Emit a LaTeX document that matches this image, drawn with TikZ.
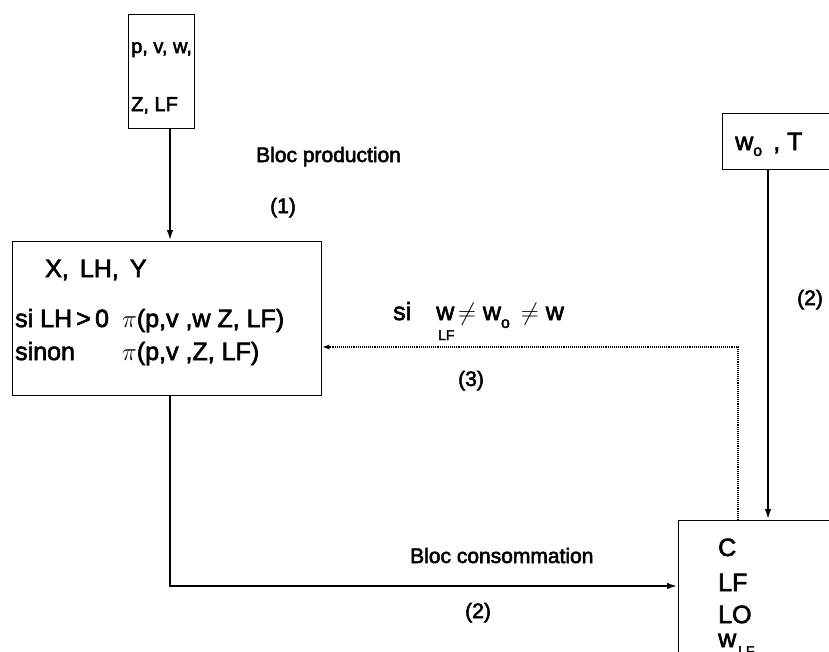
\documentclass[tikz,border=0pt]{standalone}
\usepackage{fontspec}
\setmainfont{Liberation Sans}
\newfontfamily\scanfont{Liberation Sans}[FakeBold=2.5]
\usetikzlibrary{arrows.meta}

\begin{document}
\begin{tikzpicture}[x=1pt, y=-1pt, >={Latex[length=11pt, width=6.5pt]}, every node/.style={font=\scanfont\fontsize{21}{25}\selectfont, inner sep=0pt}]
  \tikzset{box/.style={draw, line width=1.3pt, anchor=north west},
    flow/.style={->, line width=2.2pt},
    txt/.style={anchor=base west},
    big/.style={font=\scanfont\fontsize{25}{29}\selectfont},
    small/.style={font=\scanfont\fontsize{20}{24}\selectfont},
    sub/.style={font=\scanfont\fontsize{14}{14}\selectfont}}
  \clip (0,0) rectangle (829,651);
  \fill[white] (0,0) rectangle (829,651);
  % boxes
  \node[box, minimum width=66pt, minimum height=114pt] (entree) at (128,14) {};
  \node[box, minimum width=309pt, minimum height=154pt] (prod) at (12,241) {};
  \node[box, minimum width=110pt, minimum height=56pt] (wtin) at (722,113) {};
  \node[box, minimum width=200pt, minimum height=200pt] (cons) at (678,520) {};
  % box texts
  \node[txt, small] (tp) at (131,53) {p, v, w,};
  \node[txt, small] (tz) at (131,111) {Z, LF};
  \node[txt, big] (tx) at (45,277) {X, \,LH, \,Y};
  \node[txt, big] (tsi) at (15,327) {si LH\,>\,0};
  \node[txt, big] (tpi1) at (122,327) {$\pi$(p,v ,w Z, LF)};
  \node[txt, big] (tsinon) at (15,360) {sinon};
  \node[txt, big] (tpi2) at (122,360) {$\pi$(p,v ,Z, LF)};
  \node[txt, big] (two) at (735,150) {w\raisebox{-0.45ex}{\fontsize{16}{16}\selectfont o} \,, T};
  \node[txt, big] (tc) at (718,556) {C};
  \node[txt, big] (tlf) at (718,591) {LF};
  \node[txt, big] (tlo) at (718,623) {LO};
  \node[txt, big] (twlf) at (718,647) {w};
  \node[txt, sub] (tlfsub) at (738,656) {LF};
  % labels
  \node[txt] (lprod) at (256,162) {Bloc production};
  \node[txt] (l1) at (270,213) {(1)};
  \node[txt] (l2a) at (797,305) {(2)};
  \node[txt, big] (lsi) at (393,320) {si\quad w\hspace{0.15em}$\neq$ w\raisebox{-0.6ex}{\fontsize{16}{16}\selectfont o} \,$\neq$ w};
  \node[txt, sub] (lsilf) at (438,340) {LF};
  \node[txt] (l3) at (458,386) {(3)};
  \node[txt] (lcons) at (410,563) {Bloc consommation};
  \node[txt] (l2b) at (465,618) {(2)};
  % connectors
  \coordinate (coin) at (170,586);
  \coordinate (retour) at (738,347);
  \draw[flow] (entree.south -| 170,0) -- (prod.north -| 170,0);
  \draw[flow] (wtin.south -| 768,0) -- (cons.north -| 768,0);
  \draw[flow] (prod.south -| coin) -- (coin) -- (coin -| cons.west);
  \draw[->, densely dotted, line width=1.1pt, >={Latex[length=7pt, width=5pt]}] (cons.north -| retour) -- (retour) -- (retour -| prod.east);
\end{tikzpicture}
\end{document}
